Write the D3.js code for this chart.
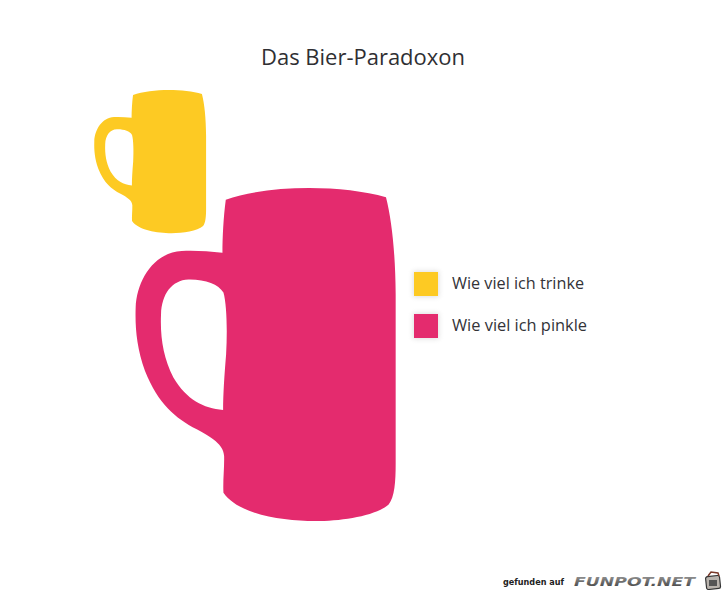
<!DOCTYPE html>
<html><head><meta charset="utf-8">
<script src="https://d3js.org/d3.v7.min.js"></script>
<style>html,body{margin:0;padding:0;background:#fff;overflow:hidden}svg{display:block}</style>
</head><body><svg id="c" width="728" height="590"></svg>
<script>
const title = "Das Bier-Paradoxon";
const categories = ["Wie viel ich trinke", "Wie viel ich pinkle"];
const values = [43, 100];
const colors = ["#fdca23", "#e42b6e"];
const mugCorners = [[94, 90], [135, 188]];

// mug silhouette, in a 0-1 box; each series is scaled to its value
const W = 779, H = 998; // template extent
const outline = [["M",272,35],["C",400,-10,620,-10,752,28],["C",770,98,780,198,781,318],["L",781,828],
 ["C",781,878,778,928,760,948],["C",720,983,620,998,540,998],["C",440,998,310,978,265,913],
 ["C",263,878,268,838,267,803],["C",265,768,230,748,185,723],["C",120,688,70,648,30,548],
 ["C",5,478,0,418,2,358],["C",5,278,55,193,140,189],["C",180,187,220,190,262,194],["C",262,148,265,88,272,35],["Z"]];
const hole = [["M",264,665],["C",205,660,155,635,115,568],["C",85,508,75,448,78,378],["C",80,318,110,276,160,274],
 ["C",210,273,250,288,265,313],["C",275,348,277,428,273,498],["C",268,558,264,618,264,665],["Z"]];

const svg = d3.select("#c");
const defs = svg.append("defs");
const blur = defs.append("filter").attr("id","soft").attr("x","-30%").attr("y","-30%").attr("width","160%").attr("height","160%");
blur.append("feGaussianBlur").attr("stdDeviation",2.5);
const g = defs.append("linearGradient").attr("id","wm").attr("x1",0).attr("x2",0).attr("y1",0).attr("y2",1);
g.append("stop").attr("offset","0").attr("stop-color","#a0a0a0");
g.append("stop").attr("offset","1").attr("stop-color","#3c3c3c");

const size = d3.scaleLinear().domain([0,100]).range([0,260]);

function mugPath(v, x0, y0){
  const w = size(v), h = w * H / W * 1.0;
  const sx = d3.scaleLinear().domain([0,W]).range([x0,x0+w]);
  const sy = d3.scaleLinear().domain([0,H]).range([y0,y0+h]);
  const p = d3.path();
  for (const shape of [outline,hole]) for (const s of shape){
    if (s[0]==="M") p.moveTo(sx(s[1]),sy(s[2]));
    else if (s[0]==="L") p.lineTo(sx(s[1]),sy(s[2]));
    else if (s[0]==="C") p.bezierCurveTo(sx(s[1]),sy(s[2]),sx(s[3]),sy(s[4]),sx(s[5]),sy(s[6]));
    else p.closePath();
  }
  return p.toString();
}

svg.append("g").selectAll("path").data(values).join("path")
  .attr("d",(d,i)=>mugPath(d,mugCorners[i][0],mugCorners[i][1]))
  .attr("fill",(d,i)=>colors[i]).attr("fill-rule","evenodd");

svg.append("text").attr("x",363).attr("y",65).attr("text-anchor","middle")
  .attr("font-family","'Open Sans'").attr("font-size",22).attr("fill","#2f2f33").attr("textLength",204).attr("lengthAdjust","spacingAndGlyphs").text(title);

const ly = d3.scalePoint().domain(categories).range([272,314]);
const leg = svg.append("g").selectAll("g").data(categories).join("g")
  .attr("transform",d=>`translate(414,${ly(d)})`);
leg.append("rect").attr("x",-1).attr("y",-1).attr("width",26).attr("height",26)
  .attr("fill","#999").attr("opacity",.3).attr("filter","url(#soft)");
leg.append("rect").attr("width",24).attr("height",24).attr("fill",(d,i)=>colors[i]);
leg.append("text").attr("x",38).attr("y",17).attr("font-family","'Open Sans'").attr("font-size",16).attr("fill","#333338")
  .attr("textLength",(d,i)=>i?135:132).attr("lengthAdjust","spacingAndGlyphs").text(d=>d);

// source watermark
svg.append("text").attr("x",503).attr("y",585).attr("font-family","'DejaVu Sans'").attr("font-weight","bold")
  .attr("font-size",8.5).attr("fill","#222").attr("textLength",61).attr("lengthAdjust","spacingAndGlyphs").text("gefunden auf");
svg.append("text").attr("x",574).attr("y",586).attr("font-family","'DejaVu Sans'").attr("font-weight","bold").attr("font-style","italic")
  .attr("font-size",13).attr("fill","url(#wm)").attr("textLength",121).attr("lengthAdjust","spacingAndGlyphs").text("FUNPOT.NET");
const ic = svg.append("g").attr("transform","translate(705,572)");
ic.append("rect").attr("x",1).attr("y",4).attr("width",14).attr("height",13).attr("rx",2).attr("fill","#b9b3ad").attr("stroke","#333").attr("stroke-width",1.2).attr("transform","rotate(-6 8 10)");
ic.append("rect").attr("x",4).attr("y",8).attr("width",8).attr("height",6).attr("fill","#555");
ic.append("path").attr("d","M3 4 L6 0 L13 1 L14 4").attr("fill","none").attr("stroke","#7a3a2a").attr("stroke-width",1.5);
</script></body></html>
